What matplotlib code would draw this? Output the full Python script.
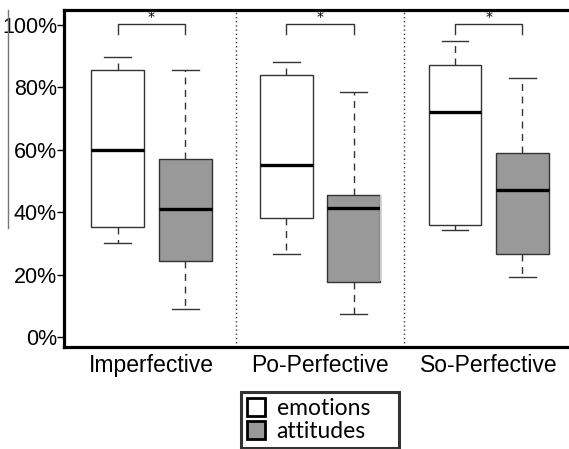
import matplotlib.pyplot as plt
from matplotlib.patches import Patch
from matplotlib.lines import Line2D

# Data (percent)
groups = ['Imperfective', 'Po-Perfective', 'So-Perfective']
series = ['emotions', 'attitudes']
whislo = [30.2, 9.1, 26.5, 7.4, 34.3, 19.1]
q1 = [35.2, 24.4, 38.0, 17.6, 35.8, 26.6]
med = [59.9, 40.9, 55.2, 41.4, 72.2, 47.1]
q3 = [85.5, 57.1, 83.9, 45.6, 87.3, 59.1]
whishi = [89.6, 85.5, 88.0, 78.4, 95.0, 82.9]
colors = ['white', '#999999']

positions = [1, 2, 3.5, 4.5, 6, 7]

stats = []
for i in range(len(positions)):
    stats.append(dict(whislo=whislo[i], q1=q1[i], med=med[i], q3=q3[i],
                      whishi=whishi[i], fliers=[]))

fig = plt.figure(figsize=(5.69, 4.49), dpi=100)
# right edge sits just past the figure, like the cropped original
ax = fig.add_axes([64 / 569, 102 / 449, 505 / 569, 337 / 449])

bp = ax.bxp(stats, positions=positions, widths=0.785, capwidths=0.4,
            patch_artist=True, showfliers=False,
            boxprops=dict(edgecolor='#333333', linewidth=1.0),
            medianprops=dict(color='black', linewidth=2.4),
            whiskerprops=dict(color='#333333', linewidth=1.0, linestyle=(0, (5, 4))),
            capprops=dict(color='#333333', linewidth=1.0))
for i, box in enumerate(bp['boxes']):
    box.set_facecolor(colors[i % 2])

# significance brackets
for g in range(3):
    xa, xb = positions[2 * g], positions[2 * g + 1]
    ax.plot([xa, xa, xb, xb], [97.0, 100.3, 100.3, 97.0], color='#333333', lw=1.0)
    ax.text((xa + xb) / 2, 100.2, '*', ha='center', va='bottom', fontsize=10)

# group separators
for x in [2.75, 5.25]:
    ax.axvline(x, color='#333333', lw=1.0, linestyle=(0, (1, 2)))

ax.set_xlim(0.207, 7.689)
ax.set_ylim(-3.2, 104.8)
ax.set_yticks([0, 20, 40, 60, 80, 100])
ax.set_yticklabels(['0%', '20%', '40%', '60%', '80%', '100%'],
                   family='Liberation Sans', fontsize=15.5)
ax.set_xticks([1.5, 4.0, 6.5])
ax.set_xticklabels(groups, family='Liberation Sans', fontsize=16.5)
ax.tick_params(axis='x', length=0, pad=5)
ax.tick_params(axis='y', length=5, width=1, pad=0)
for s in ax.spines.values():
    s.set_linewidth(2.3)
ax.spines['right'].set_visible(False)

# stray vertical lines seen in the original figure
fig.add_artist(Line2D([8 / 569, 8 / 569], [1 - 10 / 449, 1 - 228 / 449],
                      color='#777777', lw=1.0))
fig.add_artist(Line2D([380 / 569, 380 / 569], [1 - 195 / 449, 1 - 280 / 449],
                      color='#cccccc', lw=0.8))

handles = [Patch(facecolor=c, edgecolor='black', linewidth=2) for c in colors]
leg = fig.legend(handles, series, loc='upper left', mode='expand',
                 bbox_to_anchor=(241 / 569, 1 - 392 / 449, 158 / 569, 0),
                 prop=dict(family='Lato', size=16.5), frameon=True, fancybox=False,
                 edgecolor='black', handlelength=0.8, handleheight=0.8,
                 handletextpad=0.5, borderpad=0.25, labelspacing=0.1,
                 borderaxespad=0)
leg.get_frame().set_linewidth(2.2)

fig.savefig('out.png', dpi=100)
